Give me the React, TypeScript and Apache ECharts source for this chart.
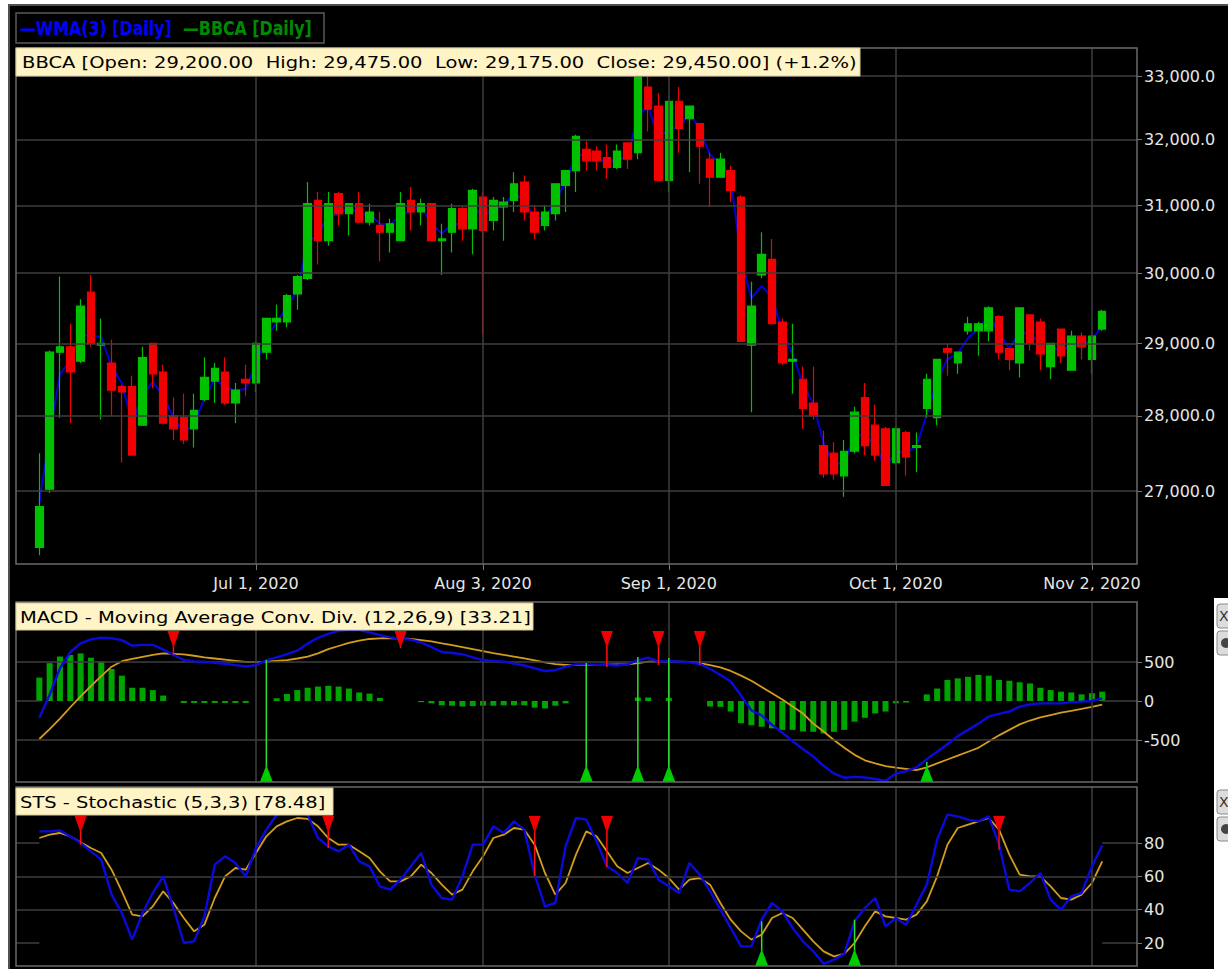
import React, { useEffect, useRef } from "react";
import * as echarts from "echarts";

// ---------- categories: IDX trading days 2020 ----------
const monthNames = ["Jun", "Jul", "Aug", "Sep", "Oct", "Nov"];
const junDays = [2, 3, 4, 5, 8, 9, 10, 11, 12, 15, 16, 17, 18, 19, 22, 23, 24, 25, 26, 29, 30];
const julDays = [1, 2, 3, 6, 7, 8, 9, 10, 13, 14, 15, 16, 17, 20, 21, 22, 23, 24, 27, 28, 29, 30];
const augDays = [3, 4, 5, 6, 7, 10, 11, 12, 13, 14, 18, 19, 24, 25, 26, 27, 28, 31];
const sepDays = [1, 2, 3, 4, 7, 8, 9, 10, 11, 14, 15, 16, 17, 18, 21, 22, 23, 24, 25, 28, 29, 30];
const octDays = [1, 2, 5, 6, 7, 8, 9, 12, 13, 14, 15, 16, 19, 20, 21, 22, 23, 26, 27];
const novDays = [2, 3];
const monthDays = [junDays, julDays, augDays, sepDays, octDays, novDays];

// ---------- BBCA daily OHLC ----------
const opens = [
  26275, 27025, 28875, 28950, 28750, 29725, 28975, 28725, 28400, 28400,
  27875, 29000, 28600, 28000, 27975, 27825, 28225, 28475, 28600, 28175,
  28500, 28450, 28875, 29300, 29300, 29700, 29925, 31075, 30475, 31175,
  30875, 31025, 30750, 30700, 30600, 30475, 31075, 30900, 31025, 30475,
  30600, 30950, 30650, 31125, 30775, 30975, 31075, 31350, 30900, 30700,
  30875, 31300, 31525, 31850, 31825, 31725, 31575, 31950, 31800, 32825,
  32525, 31375, 32600, 32325, 32250, 31700, 31425, 31525, 31125, 28975,
  29975, 30200, 29300, 28750, 28500, 28175, 27600, 27500, 27200, 27525,
  28250, 27875, 27825, 27375, 27775, 27575, 28100, 27975, 28925, 28725,
  29175, 29175, 29175, 29375, 28925, 28725, 29400, 29300, 28675, 29200,
  28625, 29100, 28775, 29200,
];
const highs = [
  27500, 28900, 29950, 29275, 29625, 29975, 29350, 29050, 28425, 28550,
  28950, 29000, 28700, 28250, 28300, 28300, 28800, 28725, 28800, 28450,
  28700, 29025, 29350, 29550, 29700, 29975, 31350, 31200, 31200, 31200,
  31025, 31200, 31025, 30900, 30800, 31200, 31275, 31100, 31025, 30725,
  31025, 30975, 31250, 31200, 31125, 31125, 31500, 31450, 31000, 31000,
  31325, 31525, 32075, 31975, 31900, 31925, 31925, 31950, 33025, 33000,
  32725, 32600, 32825, 32525, 32250, 31800, 31800, 31600, 31150, 29875,
  30600, 30500, 29350, 29275, 28675, 28675, 27800, 27650, 27675, 28125,
  28450, 28150, 27850, 27850, 27800, 27775, 28575, 28775, 29000, 28875,
  29375, 29300, 29525, 29400, 28925, 29500, 29400, 29350, 29000, 29200,
  29175, 29150, 29125, 29475,
];
const lows = [
  26175, 26975, 27975, 27900, 28725, 28950, 27950, 28000, 27375, 27475,
  27875, 28375, 27900, 27675, 27625, 27575, 28200, 28175, 28150, 27900,
  28275, 28325, 28775, 29175, 29225, 29475, 29900, 30125, 30400, 30700,
  30550, 30750, 30700, 30175, 30300, 30475, 30625, 30700, 30475, 29975,
  30300, 30475, 30275, 29125, 30625, 30475, 30900, 30775, 30500, 30625,
  30775, 30900, 31200, 31525, 31525, 31400, 31550, 31550, 31700, 32125,
  31375, 31200, 31800, 31500, 31325, 30975, 31425, 31050, 29025, 28050,
  29925, 29275, 28700, 28300, 27825, 27950, 27175, 27150, 26925, 27500,
  27475, 27400, 27075, 27350, 27200, 27250, 27975, 27875, 28550, 28575,
  29125, 28825, 29025, 28775, 28625, 28525, 28900, 28625, 28500, 28725,
  28625, 28775, 28575, 29175,
];
const closes = [
  26800, 28875, 28950, 28600, 29525, 29000, 29000, 28350, 28325, 27475,
  28800, 28575, 27900, 27825, 27675, 28075, 28525, 28650, 28175, 28350,
  28450, 29000, 29350, 29350, 29675, 29950, 31025, 30475, 31025, 30875,
  31025, 30750, 30900, 30600, 30725, 31025, 30900, 31025, 30475, 30500,
  30950, 30650, 31225, 30625, 31075, 31050, 31325, 30900, 30600, 30900,
  31325, 31525, 32050, 31675, 31675, 31575, 31825, 31700, 33000, 32475,
  31375, 32600, 32175, 32525, 31900, 31425, 31700, 31225, 29025, 29525,
  30275, 29275, 28725, 28775, 28100, 28000, 27225, 27225, 27525, 28050,
  27600, 27475, 27075, 27825, 27450, 27600, 28500, 28775, 28875, 28875,
  29275, 29275, 29500, 28875, 28775, 29500, 29000, 28850, 29000, 28825,
  29100, 28950, 29100, 29450,
];
// first two WMA(3) values (need closes before the window)
const wmaStart = [26850, 27750];

// ---------- MACD (12,26,9) ----------
const macdLine = [
  -215, 80, 420, 625, 740, 790, 812, 805, 780, 710,
  720, 720, 660, 592, 525, 508, 500, 490, 478, 460,
  442, 460, 520, 560, 600, 645, 735, 810, 860, 900,
  910, 910, 880, 845, 815, 798, 787, 750, 690, 628,
  615, 600, 560, 525, 515, 505, 480, 455, 420, 385,
  395, 440, 470, 470, 465, 460, 455, 470, 525, 555,
  505, 512, 505, 495, 475, 410, 333, 250, 70, -120,
  -185, -305, -405, -515, -615, -710, -830, -930, -983, -972,
  -980, -1000, -1025, -930, -900, -850, -745, -650, -555, -450,
  -370, -290, -200, -165, -135, -72, -45, -30, -30, -30,
  -15, -8, 0, 33.21,
];
const macdSignal = [
  -487, -360, -225, -80, 60, 190, 320, 440, 510, 540,
  565, 590, 610, 605, 598, 580, 560, 545, 530, 515,
  500, 500, 505, 515, 525, 545, 568, 610, 665, 705,
  745, 775, 795, 803, 805, 803, 795, 780, 765, 740,
  715, 690, 665, 640, 615, 592, 570, 545, 520, 495,
  472, 462, 462, 460, 462, 465, 468, 470, 485, 505,
  505, 504, 504, 500, 485, 460, 430, 385, 325, 260,
  180, 100, 20, -70, -160, -290, -390, -500, -600, -690,
  -760, -800, -835, -855, -870, -885, -850, -800, -750, -700,
  -650, -600, -520, -440, -370, -300, -250, -210, -180, -150,
  -125, -100, -75, -45,
];
const macdHist = [
  300, 485, 570, 590, 610, 555, 505, 410, 325, 170,
  170, 140, 70, 0, -25, -25, -25, -25, -25, -25,
  -25, 0, 0, 35, 90, 140, 170, 185, 195, 185,
  160, 110, 95, 40, 0, 0, 0, -15, -30, -55,
  -60, -70, -65, -60, -60, -55, -55, -55, -85, -95,
  -60, -30, 0, 0, 0, 0, 0, 0, 45, 45,
  0, 40, 0, 0, 0, -70, -75, -135, -285, -310,
  -330, -350, -370, -370, -390, -395, -415, -395, -370, -265,
  -215, -160, -135, -30, -20, 0, 85, 160, 270, 290,
  310, 335, 325, 270, 260, 240, 225, 170, 140, 120,
  110, 85, 100, 120,
];
const macdSellIdx = [13, 35, 55, 60, 64];
const macdSellVal = [590, 680, 436, 461, 461];
const macdBuyIdx = [22, 53, 58, 61, 86];
const macdBuyVal = [526, 487, 564, 551, -782];

// ---------- Stochastic (5,3,3) ----------
const stoK = [
  87, 87, 87.5, 84, 80, 75, 70, 49, 38, 22,
  38, 50, 60, 41, 20, 21, 36, 67, 72, 68,
  60, 77, 88, 97, 98, 98, 97, 83, 78, 75,
  79, 69, 66, 54, 52, 58, 66, 74, 55, 47,
  46, 60, 79, 79, 90, 86, 93, 88, 61, 42,
  44, 78, 95, 94, 81, 66, 62, 56, 71, 70,
  58, 54, 50, 68, 61, 51, 40, 29, 18, 18,
  34, 44, 39, 29, 21, 15, 7.5, 10, 13.5, 33,
  41, 47, 30, 35, 31, 43, 55, 82, 97, 96,
  94, 93, 96, 79, 52, 51, 56, 62, 46, 40,
  48, 50, 66, 78.48,
];
const stoD = [
  83, 85, 86, 84, 80.5, 77, 74, 64, 51, 37,
  36, 42, 51, 44, 35, 27, 31, 47, 60, 65,
  64, 74, 84, 90, 93, 95, 94.5, 90, 83, 79,
  79, 75, 71, 63, 57, 57, 60, 67, 62, 55,
  49, 52, 63, 72, 83, 85, 89, 88, 79, 62,
  49, 56, 73, 87, 84, 75, 66, 62, 65, 68,
  64, 59, 52, 58, 59, 55, 44, 34, 27, 22,
  25, 35, 38, 35, 28, 21, 15, 12, 13.5, 20,
  30, 39, 36, 35, 34, 37, 45, 60, 79, 89,
  91, 93, 95, 88, 73, 61, 60, 60, 54, 47,
  46, 49, 56, 69,
];
const stsSellIdx = [4, 28, 48, 55, 93];
const stsSellVal = [79, 77, 60, 65.6, 76];
const stsBuyIdx = [70, 79];
const stsBuyVal = [33, 34];

// ---------- axis ticks ----------
const priceTicks = [27000, 28000, 29000, 30000, 31000, 32000, 33000];
const priceRange = [26065, 33450];
const macdTicks = [-500, 0, 500];
const macdRange = [-1038, 1269];
const stsTicks = [20, 40, 60, 80];
const stsRange = [6.2, 113.6];

// ---------- layout / style ----------
const X_MIN = -2.26;
const X_MAX = 106.37;
const PLOT_L = 16;
const PLOT_R = 1137;
const W = 1228;
const H = 969;
const panels = [
  { top: 48, h: 516 },
  { top: 602, h: 180 },
  { top: 787, h: 179 },
];
const GRID_COLOR = "#3e3e3e";
const FRAME_COLOR = "#6a6a6a";
const LABEL_COLOR = "#e6e6e6";
const FONT = '"DejaVu Sans", Verdana, sans-serif';
const BOLD_FONT = '"DejaVu Sans Condensed", "DejaVu Sans", sans-serif';
const BLUE = "#0a0adc";
const ORANGE = "#d49c1e";

function buildOption() {
  const last = closes.length - 1;
  const dateLabels: string[] = [];
  const monthStarts: number[] = [];
  monthDays.forEach((days, m) =>
    days.forEach((d, k) => {
      if (k === 0 && m > 0) monthStarts.push(dateLabels.length);
      dateLabels.push(`${monthNames[m]} ${d}, 2020`);
    })
  );
  const ln = Math.log;
  const wma = closes.map((c, i) =>
    i < 2 ? wmaStart[i] : (3 * c + 2 * closes[i - 1] + closes[i - 2]) / 6
  );
  const f1 = (v: number) =>
    v.toLocaleString("en-US", { minimumFractionDigits: 1, maximumFractionDigits: 1 });
  const f2 = (v: number) =>
    v.toLocaleString("en-US", { minimumFractionDigits: 2, maximumFractionDigits: 2 });
  const chg = (closes[last] / closes[last - 1] - 1) * 100;
  const sp = "\u00a0\u00a0";
  const infoText =
    `BBCA [Open: ${f2(opens[last])}${sp}High: ${f2(highs[last])}${sp}Low: ${f2(lows[last])}${sp}Close: ${f2(closes[last])}] (${chg >= 0 ? "+" : ""}${chg.toFixed(1)}%)`;
  const macdText = `MACD - Moving Average Conv. Div. (12,26,9) [${macdLine[last].toFixed(2)}]`;
  const stsText = `STS - Stochastic (5,3,3) [${stoK[last].toFixed(2)}]`;

  const gridMark = (lines: any[]) => ({
    symbol: ["none", "none"],
    silent: true,
    animation: false,
    label: { show: false },
    emphasis: { disabled: true },
    lineStyle: { color: GRID_COLOR, width: 1.5, type: "solid" },
    data: lines,
  });
  const vLines = monthStarts.map((i) => ({ xAxis: i }));
  const hLine = (v: number) => [{ coord: [X_MIN, v] }, { coord: [X_MAX, v] }];
  const shortLine = (v: number) => [
    [{ coord: [X_MIN, v] }, { coord: [0, v] }],
    [{ coord: [last, v] }, { coord: [X_MAX, v] }],
  ];

  const signalSeries = (axis: number, idx: number[], vals: number[], sell: boolean) => ({
    type: "custom",
    xAxisIndex: axis,
    yAxisIndex: axis,
    silent: true,
    z: 6,
    data: idx.map((d, k) => [d, vals[k]]),
    renderItem: (params: any, api: any) => {
      const p = api.coord([api.value(0), api.value(1)]);
      const cs = params.coordSys;
      const x = p[0];
      if (sell) {
        const top = cs.y + 29;
        const tip = top + 17;
        return {
          type: "group",
          children: [
            { type: "line", shape: { x1: x, y1: tip - 2, x2: x, y2: Math.max(p[1], tip) }, style: { stroke: "#ff1010", lineWidth: 1.5 } },
            { type: "polygon", shape: { points: [[x - 6, top], [x + 6, top], [x, tip]] }, style: { fill: "#ee0000" } },
          ],
        };
      }
      const bottom = cs.y + cs.height;
      const tip = bottom - 17;
      return {
        type: "group",
        children: [
          { type: "line", shape: { x1: x, y1: Math.min(p[1], tip), x2: x, y2: tip + 2 }, style: { stroke: "#30e030", lineWidth: 1.5 } },
          { type: "polygon", shape: { points: [[x - 6.5, bottom], [x + 6.5, bottom], [x, tip]] }, style: { fill: "#00cc00" } },
        ],
      };
    },
  });

  const xAxes = panels.map((_, gi) => ({
    type: "value",
    gridIndex: gi,
    min: X_MIN,
    max: X_MAX,
    show: gi === 0,
    axisLine: { show: false, onZero: false },
    splitLine: { show: false },
    axisTick: {
      show: gi === 0,
      customValues: monthStarts,
      length: 6,
      lineStyle: { color: "#777", width: 1 },
    },
    axisLabel: {
      show: gi === 0,
      customValues: monthStarts,
      formatter: (v: number) => dateLabels[Math.round(v)] || "",
      color: LABEL_COLOR,
      fontSize: 16,
      fontFamily: FONT,
      margin: 11,
    },
  }));

  const yAxisBase = (gi: number, min: number, max: number, ticks: number[], fmt: (v: number) => string) => ({
    type: "value",
    gridIndex: gi,
    position: "right",
    min,
    max,
    axisLine: { show: false, onZero: false },
    splitLine: { show: false },
    axisTick: { show: true, customValues: ticks, length: 5, lineStyle: { color: "#777", width: 1 } },
    axisLabel: {
      customValues: ticks,
      formatter: fmt,
      color: LABEL_COLOR,
      fontSize: 16,
      fontFamily: FONT,
      margin: 7,
    },
  });

  const yAxes = [
    yAxisBase(0, ln(priceRange[0]), ln(priceRange[1]), priceTicks.map(ln), (v) => f1(Math.round(Math.exp(v)))),
    yAxisBase(1, macdRange[0], macdRange[1], macdTicks, (v) => String(Math.round(v))),
    yAxisBase(2, stsRange[0], stsRange[1], stsTicks, (v) => String(Math.round(v))),
  ];

  const textEl = (x: number, y: number, text: string, fill: string, extra: any = {}, scaleX = 1.22) => ({
    type: "text",
    x,
    y,
    z: 70,
    scaleX,
    silent: true,
    style: { text, fill, fontSize: 16, fontFamily: FONT, verticalAlign: "middle", align: "left", ...extra },
  });

  const graphic: any[] = [
    { type: "rect", z: -20, silent: true, shape: { x: 0, y: 0, width: W, height: H }, style: { fill: "#ffffff" } },
    { type: "rect", z: -19, silent: true, shape: { x: 9, y: 5, width: W + 10, height: H + 10 }, style: { fill: "#000000", stroke: "#505050", lineWidth: 2 } },
    { type: "rect", z: -18, silent: true, shape: { x: 1214, y: 598, width: 20, height: 380 }, style: { fill: "#ffffff" } },
    // panel frames
    ...panels.map((p) => ({
      type: "rect",
      z: 50,
      silent: true,
      shape: { x: PLOT_L, y: p.top, width: PLOT_R - PLOT_L, height: p.h },
      style: { fill: "none", stroke: FRAME_COLOR, lineWidth: 1.5 },
    })),
    // legend box
    { type: "rect", z: 60, silent: true, shape: { x: 16, y: 13, width: 308, height: 30 }, style: { fill: "#000", stroke: "#5a5a5a", lineWidth: 1.5 } },
    textEl(20, 28, "\u2014WMA(3) [Daily]", "#0000ff", { fontFamily: BOLD_FONT, fontWeight: "bold", fontSize: 20 }, 0.88),
    textEl(183, 28, "\u2014BBCA [Daily]", "#008a00", { fontFamily: BOLD_FONT, fontWeight: "bold", fontSize: 20 }, 0.88),
    // info boxes
    { type: "rect", z: 60, silent: true, shape: { x: 16, y: 48, width: 844, height: 28 }, style: { fill: "#fff4c6", stroke: "#d8cc9c", lineWidth: 1 } },
    textEl(22, 62, infoText, "#000"),
    { type: "rect", z: 60, silent: true, shape: { x: 16, y: 603, width: 517, height: 27 }, style: { fill: "#fff4c6", stroke: "#d8cc9c", lineWidth: 1 } },
    textEl(20, 617, macdText, "#000"),
    { type: "rect", z: 60, silent: true, shape: { x: 16, y: 788, width: 317, height: 27 }, style: { fill: "#fff4c6", stroke: "#d8cc9c", lineWidth: 1 } },
    textEl(20, 802, stsText, "#000"),
    // little panel buttons at the right edge
    ...[604, 631, 790, 817].map((y, k) => ({
      type: "group",
      z: 60,
      silent: true,
      children: [
        { type: "rect", shape: { x: 1217, y, width: 18, height: 24, r: 3 }, style: { fill: "#dcdcdc", stroke: "#8a8a8a", lineWidth: 1 } },
        k % 2 === 0
          ? { type: "text", x: 1219, y: y + 12, style: { text: "X", fill: "#333", fontSize: 14, fontFamily: FONT, verticalAlign: "middle" } }
          : { type: "circle", shape: { cx: 1226, cy: y + 12, r: 5 }, style: { fill: "#444" } },
      ],
    })),
  ];

  return {
    animation: false,
    backgroundColor: "#ffffff",
    textStyle: { fontFamily: FONT },
    grid: panels.map((p) => ({ left: PLOT_L, right: W - PLOT_R, top: p.top, height: p.h, containLabel: false })),
    xAxis: xAxes,
    yAxis: yAxes,
    graphic,
    series: [
      // price panel grid lines
      {
        type: "line", xAxisIndex: 0, yAxisIndex: 0, data: [[0, ln(closes[0])]], symbol: "none", silent: true,
        lineStyle: { opacity: 0 }, z: 1, markLine: gridMark([...vLines, ...priceTicks.map((p) => hLine(ln(p)))]),
      },
      {
        type: "line", name: "WMA(3)", xAxisIndex: 0, yAxisIndex: 0, silent: true, symbol: "none", z: 2,
        data: wma.map((w, i) => [i, ln(w)]), lineStyle: { color: "#0000d8", width: 2 },
      },
      {
        type: "candlestick", name: "BBCA", xAxisIndex: 0, yAxisIndex: 0, silent: true, z: 3, barWidth: 8,
        data: opens.map((o, i) => [i, ln(o), ln(closes[i]), ln(lows[i]), ln(highs[i])]),
        itemStyle: { color: "#00c000", color0: "#f00000", borderColor: "#00c000", borderColor0: "#f00000", borderWidth: 1.2 },
      },
      // MACD panel
      {
        type: "line", xAxisIndex: 1, yAxisIndex: 1, data: [[0, 0]], symbol: "none", silent: true,
        lineStyle: { opacity: 0 }, z: 1,
        markLine: gridMark([...vLines, hLine(500), hLine(-500), ...shortLine(0)]),
      },
      {
        type: "bar", xAxisIndex: 1, yAxisIndex: 1, silent: true, z: 2, barWidth: 6,
        data: macdHist.map((h, i) => [i, h]), itemStyle: { color: "#00a400" },
      },
      {
        type: "line", xAxisIndex: 1, yAxisIndex: 1, silent: true, symbol: "none", z: 4,
        data: macdSignal.map((v, i) => [i, v]), lineStyle: { color: ORANGE, width: 1.8 },
      },
      {
        type: "line", xAxisIndex: 1, yAxisIndex: 1, silent: true, symbol: "none", z: 5,
        data: macdLine.map((v, i) => [i, v]), lineStyle: { color: BLUE, width: 2.4 },
      },
      signalSeries(1, macdSellIdx, macdSellVal, true),
      signalSeries(1, macdBuyIdx, macdBuyVal, false),
      // Stochastic panel
      {
        type: "line", xAxisIndex: 2, yAxisIndex: 2, data: [[0, 50]], symbol: "none", silent: true,
        lineStyle: { opacity: 0 }, z: 1,
        markLine: gridMark([...vLines, hLine(40), hLine(60), ...shortLine(80), ...shortLine(20)]),
      },
      {
        type: "line", xAxisIndex: 2, yAxisIndex: 2, silent: true, symbol: "none", z: 4,
        data: stoD.map((v, i) => [i, v]), lineStyle: { color: ORANGE, width: 1.8 },
      },
      {
        type: "line", xAxisIndex: 2, yAxisIndex: 2, silent: true, symbol: "none", z: 5,
        data: stoK.map((v, i) => [i, v]), lineStyle: { color: BLUE, width: 2.4 },
      },
      signalSeries(2, stsSellIdx, stsSellVal, true),
      signalSeries(2, stsBuyIdx, stsBuyVal, false),
    ],
  };
}

export default function App() {
  const ref = useRef<HTMLDivElement>(null);
  useEffect(() => {
    if (!ref.current) return;
    const chart = echarts.init(ref.current, undefined, { renderer: "svg" });
    chart.setOption(buildOption() as any);
    return () => {
      chart.dispose();
    };
  }, []);
  return (
    <div
      ref={ref}
      style={{ position: "absolute", left: 0, top: 0, width: W, height: H }}
    />
  );
}
